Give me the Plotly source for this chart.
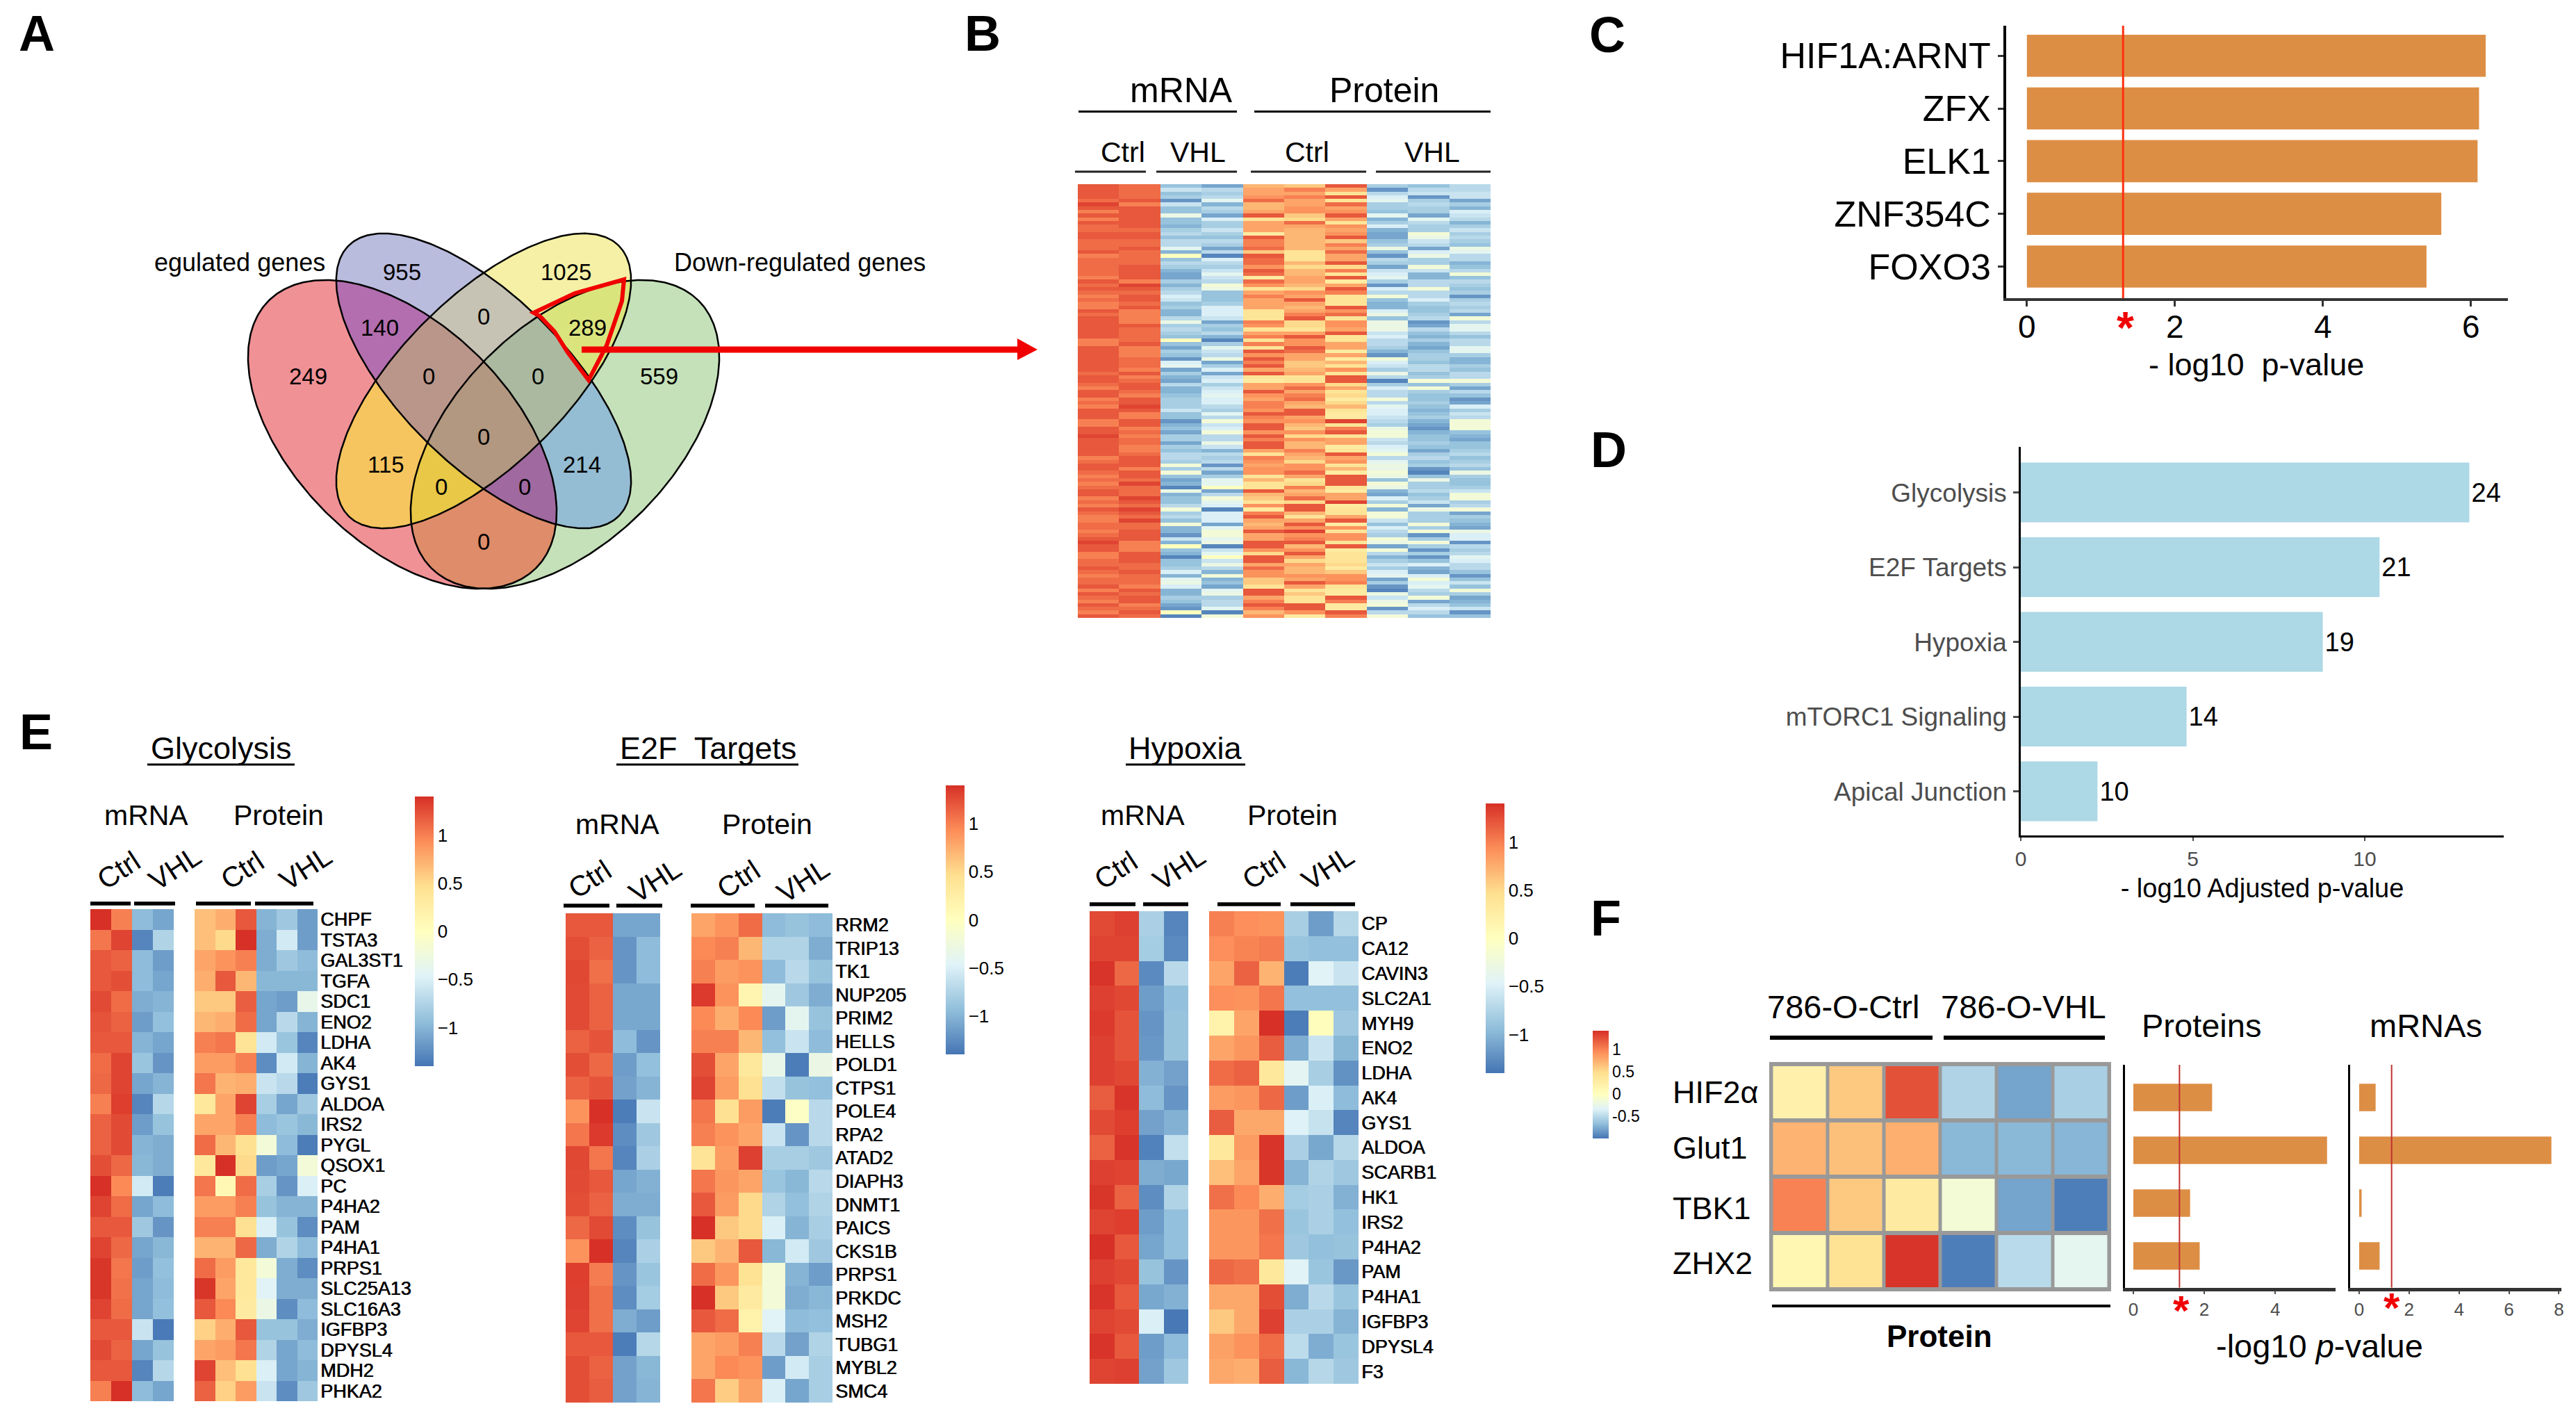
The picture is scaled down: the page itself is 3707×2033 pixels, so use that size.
import numpy as np
import plotly.graph_objects as go

W, H = 3707, 2033
FONT = "Liberation Sans"

# ---------------- DATA ----------------
venn_counts = ["955", "1025", "0", "140", "289", "249", "0", "0", "559", "0", "115", "214", "0", "0", "0"]

tf_names = ["HIF1A:ARNT", "ZFX", "ELK1", "ZNF354C", "FOXO3"]
tf_values = [6.2, 6.11, 6.09, 5.6, 5.4]
significance = 1.3

hallmark_names = ["Glycolysis", "E2F Targets", "Hypoxia", "mTORC1 Signaling", "Apical Junction"]
hallmark_values = [13.04, 10.43, 8.78, 4.82, 2.23]
hallmark_counts = ["24", "21", "19", "14", "10"]

# panel B, tenths of a z-score, read band by band: mRNA Ctrl x2, VHL x2, Protein Ctrl x3, VHL x3
panel_b_rows = [
[12,11,-9,-11,7,6,12,-8,-9,-7],[12,11,-6,-7,8,10,8,-12,-7,-7],[12,11,-9,-8,8,8,4,-7,-6,-6],[12,11,-8,-7,9,10,12,-5,-12,-6],
[11,12,-12,-4,11,8,4,-4,-8,-11],[13,10,-6,-10,7,8,11,-8,-7,-8],[12,12,-9,-7,7,9,8,-8,-8,-10],[10,12,-9,-8,8,9,9,-9,-8,-5],
[12,12,-3,-11,12,6,12,-4,-11,-6],[10,12,-9,-5,4,5,8,-10,-4,-7],[12,12,-9,-8,8,11,4,-8,-7,-10],[11,12,-10,-8,8,8,9,-5,-8,-8],
[11,11,-8,-6,8,7,8,-10,-8,-6],[12,12,-7,-8,3,7,9,-11,-2,-8],[12,12,-9,-9,12,7,12,-11,-3,-7],[11,11,-7,-7,10,7,6,-9,-6,-8],
[11,11,-7,-8,10,7,10,-8,-7,-9],[11,12,-4,-11,11,7,8,-3,-11,-3],[12,11,-10,-7,6,4,11,-9,-5,-4],[10,11,0,-13,12,4,8,-12,-3,-7],
[11,11,-9,-5,11,4,8,-7,-8,-7],[11,11,-7,-7,11,7,12,-8,-8,-10],[11,12,-8,-8,9,5,5,-11,-2,-9],[11,12,-10,-6,12,7,10,-6,-6,-7],
[11,12,-11,-4,11,7,4,-5,-10,-2],[10,12,-11,-6,3,8,12,-4,-10,-9],[12,10,-8,-7,11,8,3,-8,-7,-7],[11,13,-10,-2,9,7,8,-12,-7,-8],
[12,12,-8,-3,4,5,12,-5,-2,-9],
[11,11,-7,-9,8,9,10,-7,-7,-8],[10,12,-5,-9,10,8,4,-2,-7,-12],[11,12,-6,-9,8,12,4,-9,-5,-8],[10,11,-9,-8,8,8,4,-10,-8,-7],
[10,12,-8,-5,8,7,12,-10,-9,-8],[12,10,-10,-5,4,8,9,-5,-9,-7],[11,10,-10,-5,4,10,11,-3,-8,-11],[12,10,-7,-6,4,12,4,-9,-7,-2],
[12,10,-3,-11,10,5,9,-3,-12,-7],[12,12,-8,-8,9,5,9,-3,-11,-4],[12,11,-7,-9,4,4,8,-3,-7,-4],[12,11,-8,-7,8,8,12,-6,-9,-7],
[12,11,-9,-10,10,12,4,-5,-10,-9],[10,11,0,-13,4,9,4,-7,-8,-7],[10,12,-9,-8,10,9,8,-7,-10,-7],[12,10,-11,-4,4,12,8,-8,-11,-4],
[12,10,-8,-6,12,11,3,-10,-9,-4],[12,10,-9,-7,9,8,8,-12,-8,-8],[12,11,-12,-3,12,8,3,-2,-8,-10],[12,11,-5,-11,10,6,7,-5,-9,-10],
[12,11,-4,-8,12,6,4,-6,-7,-8],[12,10,-11,-5,8,7,9,-8,-7,-9],[11,12,-8,-11,12,8,4,-3,-9,-7],[12,10,-10,-6,4,4,12,-7,-8,-7],
[12,11,-11,-5,3,4,12,-13,-2,-2],[11,12,-7,-8,8,9,5,-8,-9,-8],[10,12,-10,-6,8,11,8,-5,-2,-11],[12,11,-10,-5,12,8,4,-7,-8,-7],
[12,10,-9,-4,9,10,5,-7,-9,-9],[10,12,-8,-5,8,11,3,-2,-9,-12],
[11,12,-8,-5,10,8,5,-7,-8,-11],[10,13,-8,-7,10,7,7,-4,-9,-5],[12,12,-6,-8,9,12,4,-5,-10,-8],[12,10,-9,-4,12,12,3,-5,-9,-6],
[12,10,-9,-7,10,8,3,-6,-8,-7],[10,12,-12,-2,9,9,13,-7,-10,-2],[10,12,-10,-6,12,7,4,-8,-11,-2],[12,10,-9,-5,12,6,10,-3,-12,-2],
[12,11,-11,-2,9,9,12,-2,-10,-9],[13,10,-8,-7,12,5,4,-2,-9,-10],[12,11,-8,-7,10,9,8,-6,-9,-11],[12,11,-11,-3,12,7,8,-7,-8,-9],
[12,10,-8,-6,12,7,3,-5,-9,-9],[12,10,-9,-10,8,10,4,-4,-11,-8],[12,11,-7,-7,4,8,12,-2,-8,-7],[10,12,-7,-8,10,7,8,-7,-7,-9],
[11,12,-8,-7,9,5,9,-4,-9,-8],[12,12,-2,-12,8,9,4,-3,-8,-7],[12,10,-8,-7,9,9,7,-3,-12,-9],[11,12,-2,-11,9,11,3,-2,-13,-3],
[10,12,-9,-8,4,8,12,-3,-9,-8],[11,11,-11,-4,7,4,12,-9,-3,-9],[10,13,-10,-4,4,5,12,-2,-8,-9],[11,11,-13,0,4,10,4,-3,-8,-8],
[12,11,-3,-11,12,7,3,-10,-7,-6],[12,11,-10,-7,7,8,8,-11,-9,-2],[10,13,-9,-2,6,11,8,-5,-8,-2],[11,12,-9,-4,4,5,13,-8,-6,-8],
[10,11,-7,-5,9,12,3,-2,-11,-7],[12,13,-2,-13,3,12,4,-10,-3,-2],
[11,12,-8,-5,10,7,4,-2,-8,-11],[10,11,-7,-5,12,4,8,-2,-8,-8],[10,13,-9,-5,8,8,12,-6,-8,-9],[11,11,-2,-11,7,12,3,-9,-2,-10],
[11,11,-10,-4,8,9,9,-5,-8,-11],[10,12,-10,-2,12,13,4,-7,-2,-3],[11,12,-12,-2,8,9,9,-8,-12,-5],[12,12,-6,-4,8,10,9,-2,-8,-5],
[13,10,-10,-3,12,12,4,-3,-2,-12],[12,10,0,-13,12,7,12,-11,-8,-7],[12,10,-9,-6,9,9,3,-2,-12,-8],[10,12,-10,-4,5,12,4,-7,-8,-7],
[10,12,-13,0,12,8,4,-10,-12,-4],[11,12,-9,-6,12,5,4,-8,-9,-5],[11,11,-9,-3,8,8,5,-6,-5,-7],[12,11,-8,-7,11,7,3,-8,-10,-7],
[11,12,-5,-10,9,7,6,-5,-11,-9],[10,11,-10,-2,9,9,9,-4,-5,-12],[11,11,-4,-10,6,8,9,-11,-2,-9],[11,11,-3,-9,6,12,10,-8,-5,-6],
[12,10,-5,-11,4,8,4,-12,-4,-9],[10,12,-10,-4,12,4,3,-13,-7,-2],[12,11,-10,-3,12,6,3,-3,-8,-8],[11,12,-8,-8,8,4,12,-6,-2,-11],
[10,12,-9,-7,10,4,10,-3,-11,-10],[12,10,-11,-7,12,12,3,-2,-7,-9],[11,11,-12,-4,10,12,3,-12,-5,-6],[10,12,0,-13,7,9,12,-7,-7,-12],
[12,11,-13,-2,9,3,10,-2,-9,-9],
]

glyco_genes = ["CHPF","TSTA3","GAL3ST1","TGFA","SDC1","ENO2","LDHA","AK4","GYS1","ALDOA","IRS2","PYGL","QSOX1","PC","P4HA2","PAM","P4HA1","PRPS1","SLC25A13","SLC16A3","IGFBP3","DPYSL4","MDH2","PHKA2"]
glyco_mrna = [[1.4,1.0,-.95,-1.1],[1.05,1.3,-1.3,-.75],[1.2,1.15,-.95,-1.15],[1.2,1.25,-.95,-1.1],[1.27,1.1,-1.05,-1.0],[1.22,1.15,-1.15,-.92],[1.2,1.2,-1.0,-1.1],[1.1,1.3,-.88,-1.2],[1.12,1.3,-1.1,-1.0],[1.0,1.33,-1.3,-.72],[1.15,1.27,-1.15,-.9],[1.15,1.27,-1.0,-1.05],[1.25,1.12,-.98,-1.05],[1.4,.95,-.55,-1.35],[1.3,1.1,-1.1,-.95],[1.2,1.2,-.85,-1.2],[1.3,1.12,-1.1,-.98],[1.37,1.05,-1.15,-.92],[1.37,1.07,-1.1,-.95],[1.3,1.1,-1.1,-.92],[1.2,1.2,-.6,-1.37],[1.27,1.15,-1.1,-.9],[1.2,1.2,-1.3,-.72],[1.0,1.4,-.95,-1.1]]
glyco_protein = [[.65,.75,1.2,-1.0,-.85,-1.15],[.65,.5,1.4,-1.05,-.55,-1.15],[.8,.9,1.0,-1.05,-.85,-.95],[.75,1.2,.7,-.98,-.98,-.98],[.6,.6,1.17,-1.1,-1.15,-.35],[.7,.75,1.1,-1.1,-.7,-1.0],[1.0,1.05,.4,-.55,-.88,-1.3],[.85,.85,1.0,-1.25,-.55,-1.0],[1.05,.72,.75,-.6,-.7,-1.35],[.35,.8,1.3,-.8,-1.1,-.85],[.8,.8,1.0,-.95,-.88,-.98],[1.1,.7,.45,-.2,-.95,-1.35],[.35,1.4,.5,-1.15,-1.1,-.2],[1.05,.1,1.1,-.8,-1.2,-.5],[.85,.85,1.0,-.9,-1.0,-1.0],[1.0,1.0,.45,-.5,-.9,-1.25],[.72,.72,1.12,-1.05,-.75,-.95],[1.1,.85,.35,-.2,-1.05,-1.25],[1.37,.8,.35,-.45,-1.05,-1.05],[1.2,.95,.3,-.3,-1.25,-.95],[.55,.75,1.2,-.9,-.9,-1.05],[.8,.85,1.05,-.75,-1.1,-.95],[1.3,.65,.45,-.5,-1.1,-1.0],[1.15,.55,.85,-.6,-1.25,-.85]]

e2f_genes = ["RRM2","TRIP13","TK1","NUP205","PRIM2","HELLS","POLD1","CTPS1","POLE4","RPA2","ATAD2","DIAPH3","DNMT1","PAICS","CKS1B","PRPS1","PRKDC","MSH2","TUBG1","MYBL2","SMC4"]
e2f_mrna = [[1.2,1.2,-1.1,-1.1],[1.25,1.15,-1.2,-.95],[1.28,1.08,-1.2,-.95],[1.27,1.15,-1.08,-1.08],[1.27,1.15,-1.08,-1.08],[1.15,1.22,-.95,-1.2],[1.25,1.12,-1.15,-.92],[1.15,1.22,-1.12,-1.0],[.9,1.4,-1.35,-.6],[1.05,1.35,-1.25,-.85],[1.28,1.05,-1.3,-.78],[1.27,1.2,-1.1,-1.02],[1.25,1.15,-1.05,-1.05],[1.12,1.27,-1.25,-.9],[.9,1.4,-1.3,-.78],[1.33,1.02,-1.2,-.88],[1.32,1.08,-1.25,-.82],[1.3,1.08,-1.05,-1.15],[1.2,1.2,-1.35,-.72],[1.25,1.15,-1.12,-.98],[1.25,1.18,-1.12,-1.0]]
e2f_protein = [[.8,.9,1.1,-.95,-.9,-.95],[.95,1.0,.7,-.75,-.75,-1.05],[1.0,.85,.9,-.95,-.7,-.9],[1.35,.9,.15,-.4,-.85,-1.05],[.95,.75,.95,-1.15,-.4,-.9],[1.0,1.0,.7,-.92,-.6,-.95],[1.25,.8,.35,-.35,-1.35,-.3],[1.3,.85,.45,-.65,-.9,-.92],[1.05,.45,.85,-1.35,-.05,-.7],[1.0,.9,.8,-.6,-1.2,-.7],[.4,.85,1.32,-.8,-.8,-.85],[1.05,.88,.8,-.88,-.98,-.7],[1.2,.85,.5,-.75,-.92,-.75],[1.4,.6,.5,-.5,-1.0,-.8],[.6,.72,1.2,-.98,-.55,-.85],[1.1,.88,.42,-.2,-1.0,-1.15],[1.4,.6,.3,-.2,-1.05,-.98],[1.2,1.1,.2,-.45,-.95,-.92],[.8,.85,1.0,-.7,-1.12,-.75],[.8,.95,.9,-1.15,-.55,-.8],[1.05,.58,.82,-.5,-1.1,-.8]]

hypoxia_genes = ["CP","CA12","CAVIN3","SLC2A1","MYH9","ENO2","LDHA","AK4","GYS1","ALDOA","SCARB1","HK1","IRS2","P4HA2","PAM","P4HA1","IGFBP3","DPYSL4","F3"]
hypoxia_mrna = [[1.27,1.32,-.78,-1.3],[1.3,1.3,-.82,-1.27],[1.38,1.12,-1.27,-.7],[1.32,1.28,-1.15,-.92],[1.35,1.22,-1.2,-.9],[1.32,1.22,-1.18,-.9],[1.32,1.28,-1.02,-1.12],[1.18,1.38,-.95,-1.2],[1.27,1.33,-1.12,-1.02],[1.15,1.38,-1.32,-.65],[1.32,1.3,-1.05,-1.08],[1.37,1.15,-1.25,-.75],[1.3,1.33,-1.15,-.92],[1.4,1.2,-1.1,-.92],[1.32,1.28,-.9,-1.2],[1.38,1.2,-1.08,-1.02],[1.3,1.27,-.5,-1.38],[1.38,1.2,-1.15,-.95],[1.3,1.32,-1.12,-.85]]
hypoxia_protein = [[1.0,.92,.9,-.8,-1.15,-.72],[.92,.98,1.02,-.88,-.92,-.92],[.8,1.15,.72,-1.35,-.45,-.6],[.92,.9,1.05,-.92,-.92,-.92],[.2,.8,1.4,-1.35,.03,-.85],[.8,.88,1.18,-1.05,-.6,-.98],[1.1,1.15,.35,-.42,-.8,-1.22],[.85,.88,1.12,-1.15,-.5,-.95],[1.18,.78,.78,-.48,-.62,-1.3],[.35,.85,1.38,-.78,-1.08,-.72],[.65,.8,1.37,-1.0,-.75,-.85],[1.08,.95,.75,-.82,-.78,-1.02],[.88,.88,1.08,-.88,-.78,-.92],[.88,.88,1.05,-.85,-.92,-.9],[1.12,1.08,.35,-.45,-.88,-1.18],[.78,.78,1.25,-1.05,-.7,-.88],[.6,.78,1.32,-.78,-.78,-1.0],[.82,.9,1.1,-.68,-1.05,-.88],[.78,.75,1.18,-.98,-.72,-.85]]

f_genes = ["HIF2α", "Glut1", "TBK1", "ZHX2"]
f_samples = ["Ctrl 1", "Ctrl 2", "Ctrl 3", "VHL 1", "VHL 2", "VHL 3"]
f_heat = [[.2,.6,1.25,-.54,-.79,-.57],[.72,.65,.75,-.7,-.7,-.71],[1.0,.6,.3,-.14,-.79,-.96],[.12,.42,1.4,-.96,-.5,-.29]]
f_protein_p = [2.22, 5.46, 1.6, 1.87]
f_mrna_p = [0.66, 7.7, 0.1, 0.82]

mrna_samples = ["Ctrl 1", "Ctrl 2", "VHL 1", "VHL 2"]
protein_samples = ["Ctrl 1", "Ctrl 2", "Ctrl 3", "VHL 1", "VHL 2", "VHL 3"]
cbar_vals = [1, 0.5, 0, -0.5, -1]
cbar_text = ["1", "0.5", "0", "−0.5", "−1"]

# ---------------- STYLE ----------------
RDYLBU = [[0, "#4575B4"], [1/6, "#91BFDB"], [2/6, "#E0F3F8"], [.5, "#FFFFBF"], [4/6, "#FEE090"], [5/6, "#FC8D59"], [1, "#D73027"]]
RDYLBU_F = [[0, "#4575B4"], [.137, "#91BFDB"], [.273, "#E0F3F8"], [.41, "#FFFFBF"], [.607, "#FEE090"], [.803, "#FC8D59"], [1, "#D73027"]]
ORANGE, LIGHTBLUE, GREY = "#DD8E45", "#ADD8E6", "#4D4D4D"
# colour of each Venn intersection, indexed by membership bits: pink 1, blue 2, yellow 4, green 8
VENN_COLORS = ["rgb(255,255,255)", "rgb(240,145,150)", "rgb(186,188,222)", "rgb(178,110,175)",
               "rgb(245,240,165)", "rgb(246,197,95)", "rgb(198,195,180)", "rgb(186,150,138)",
               "rgb(197,225,185)", "rgb(222,140,105)", "rgb(148,188,210)", "rgb(160,105,160)",
               "rgb(218,228,125)", "rgb(232,200,70)", "rgb(170,185,160)", "rgb(178,152,128)"]

fig = go.Figure()
layout = {}
annots, shapes = [], []
axis_n = [0]

def new_axes(x0, x1, y0, y1, xkw=None, ykw=None):
    axis_n[0] += 1
    n = axis_n[0]
    sx = "" if n == 1 else str(n)
    layout["xaxis" + sx] = dict(domain=[x0 / W, x1 / W], anchor="y" + sx, automargin=False, **(xkw or {}))
    layout["yaxis" + sx] = dict(domain=[1 - y1 / H, 1 - y0 / H], anchor="x" + sx, automargin=False, **(ykw or {}))
    return "x" + sx, "y" + sx

def T(text, x, y, size, anchor="center", angle=0, color="black", bold=False, family=FONT):
    annots.append(dict(text=f"<b>{text}</b>" if bold else text, x=x, y=y, xref="x", yref="y", xanchor=anchor, yanchor="middle",
                       showarrow=False, textangle=angle, font=dict(size=size, color=color, family=family)))

def L(x0, y0, x1, y1, w=3, color="black"):
    shapes.append(dict(type="line", x0=x0, y0=y0, x1=x1, y1=y1, xref="x", yref="y", line=dict(color=color, width=w)))

HIDE = dict(visible=False)
# overlay axes counted in pixels, for the diagram and all annotations
xo, yo = new_axes(0, W, 0, H, dict(range=[0, W], **HIDE), dict(range=[H, 0], **HIDE))

# ---- A: Venn
venn_sets = [(579, 625, 272, 157, 45), (696, 548, 275, 120, 45), (696, 548, 275, 120, -45), (813, 625, 272, 157, -45)]

def outline(cx, cy, a, b, deg):
    t = np.linspace(0, 2 * np.pi, 361)
    th = np.radians(deg)
    return (cx + a * np.cos(t) * np.cos(th) - b * np.sin(t) * np.sin(th),
            cy + a * np.cos(t) * np.sin(th) + b * np.sin(t) * np.cos(th))

def inside(px, py, cx, cy, a, b, deg):
    th = np.radians(deg)
    u = (px - cx) * np.cos(th) + (py - cy) * np.sin(th)
    v = -(px - cx) * np.sin(th) + (py - cy) * np.cos(th)
    return (u / a) ** 2 + (v / b) ** 2 <= 1

gx = np.arange(340.0, 1052.0, 1.5)
gy = np.arange(320.0, 860.0, 1.5)
PX, PY = np.meshgrid(gx, gy)
member = np.zeros(PX.shape, dtype=float)
for bit, s in enumerate(venn_sets):
    member += inside(PX, PY, *s) * (2 ** bit)
venn_scale = []
for i, c in enumerate(VENN_COLORS):
    venn_scale += [[i / 16, c], [(i + 1) / 16, c]]
fig.add_trace(go.Heatmap(z=member + 0.5, x=gx, y=gy, zmin=0, zmax=16, colorscale=venn_scale, showscale=False, xaxis=xo, yaxis=yo, hoverinfo="skip"))
for s in venn_sets:
    ex, ey = outline(*s)
    fig.add_trace(go.Scatter(x=ex, y=ey, mode="lines", line=dict(color="black", width=2.5), xaxis=xo, yaxis=yo, hoverinfo="skip"))
venn_xy = [(578,391),(814,391),(696,455),(546,471),(845,471),(443,541),(617,541),(774,541),(948,541),(696,628),(555,668),(837,668),(635,700),(755,700),(696,779)]
for s, (x, y) in zip(venn_counts, venn_xy):
    T(s, x, y, 33)
T("egulated genes", 470, 377, 36, anchor="right")
T("Down-regulated genes", 968, 377, 36, anchor="left")
shapes.append(dict(type="path", xref="x", yref="y", line=dict(color="#F00000", width=6),
                   path="M 768,450 L 827,422 L 898,402 L 895,433 L 873,497 L 847,547 L 817,507 L 798,477 L 777,455 Z"))
L(837, 503, 1466, 503, 9, "#F00000")
shapes.append(dict(type="path", xref="x", yref="y", fillcolor="#F00000", line=dict(color="#F00000", width=0),
                   path="M 1464,487 L 1493,503 L 1464,518 Z"))

# ---- heatmap helper
def heat(x0, x1, y0, y1, z, cols, rows, labels=False, cbar=None, label_size=27, cs=RDYLBU, zr=(-1.4, 1.4), gaps=(0, 0)):
    ykw = dict(type="category", categoryorder="array", categoryarray=rows, range=[len(rows) - .5, -.5],
               showgrid=False, zeroline=False, showline=False, ticks="")
    if labels:
        ykw.update(side="right", showticklabels=True, tickmode="array", tickvals=rows, ticktext=rows, ticklabelstandoff=3,
                   tickfont=dict(size=label_size, color="black", family=FONT, shadow="0.7px 0 0 #000"))
    else:
        ykw.update(showticklabels=False)
    xa, ya = new_axes(x0, x1, y0, y1, dict(type="category", showticklabels=False, ticks="", showgrid=False, zeroline=False, showline=False), ykw)
    kw = dict(showscale=False)
    if cbar:
        kw = dict(showscale=True, colorbar=dict(
            x=cbar["x"] / W, xanchor="left", y=1 - cbar["y"] / H, yanchor="top", len=cbar["len"], lenmode="pixels",
            thickness=cbar["th"], thicknessmode="pixels", xpad=0, ypad=0, outlinewidth=0, ticks="", ticklen=0,
            tickmode="array", tickvals=cbar.get("vals", cbar_vals), ticktext=cbar.get("text", cbar_text),
            tickfont=dict(size=cbar.get("size", 26), color="black", family=FONT)))
    fig.add_trace(go.Heatmap(z=z, x=cols, y=rows, colorscale=cs, zmin=zr[0], zmax=zr[1], xaxis=xa, yaxis=ya,
                             xgap=gaps[0], ygap=gaps[1], hoverinfo="skip", **kw))

# ---- B
b_cols = ["mRNA Ctrl 1", "mRNA Ctrl 2", "mRNA VHL 1", "mRNA VHL 2", "Protein Ctrl 1", "Protein Ctrl 2", "Protein Ctrl 3", "Protein VHL 1", "Protein VHL 2", "Protein VHL 3"]
b_row_ids = [f"gene {i+1}" for i in range(len(panel_b_rows))]
heat(1551, 2145, 265, 889, (np.array(panel_b_rows) / 10).tolist(), b_cols, b_row_ids)
T("mRNA", 1700, 130, 50); T("Protein", 1992, 130, 50)
L(1552, 160.5, 1780, 160.5); L(1805, 160.5, 2145, 160.5)
for txt, x in [("Ctrl", 1616), ("VHL", 1724), ("Ctrl", 1881), ("VHL", 2061)]:
    T(txt, x, 219, 41)
for a, b in [(1547, 1649), (1664, 1780), (1800, 1966), (1980, 2145)]:
    L(a, 247, b, 247, 3, "#222222")

# ---- E
def e_panel(title, tx, ul, genes, mrna, prot, xm, xp, yr, head_y, ctrl_x, bars, bar_y, lab_x, cb):
    heat(xm[0], xm[1], yr[0], yr[1], mrna, mrna_samples, genes)
    heat(xp[0], xp[1], yr[0], yr[1], prot, protein_samples, genes, labels=True, cbar=cb)
    T(title, tx, 1076, 45)
    L(ul[0], 1100, ul[1], 1100, 3)
    T("mRNA", lab_x[0], head_y, 41); T("Protein", lab_x[1], head_y, 41)
    for i, (x, y) in enumerate(ctrl_x):
        T("Ctrl" if i % 2 == 0 else "VHL", x, y, 41, angle=-33)
    for a, b in bars:
        L(a, bar_y, b, bar_y, 5.5)

e_panel("Glycolysis", 318, (212, 424), glyco_genes, glyco_mrna, glyco_protein, (130, 250), (280, 457), (1308, 2016), 1173,
        [(171, 1252), (252, 1249), (349, 1252), (440, 1249)], [(130, 188), (193, 252), (282, 361), (367, 451)], 1300, (210, 401),
        dict(x=597, y=1146, len=388, th=27))
e_panel("E2F  Targets", 1019, (887, 1149), e2f_genes, e2f_mrna, e2f_protein, (814, 950), (995, 1198), (1314, 2018), 1186,
        [(849, 1265), (943, 1267), (1063, 1265), (1156, 1267)], [(811, 877), (887, 953), (994, 1086), (1101, 1192)], 1303, (888, 1104),
        dict(x=1361, y=1130, len=387, th=27))
e_panel("Hypoxia", 1706, (1620, 1792), hypoxia_genes, hypoxia_mrna, hypoxia_protein, (1568, 1710), (1740, 1955), (1311, 1991), 1173,
        [(1606, 1252), (1697, 1249), (1819, 1252), (1911, 1249)], [(1568, 1634), (1645, 1710), (1752, 1843), (1857, 1950)], 1301, (1644, 1860),
        dict(x=2138, y=1156, len=388, th=27))

# ---- C
xc, yc = new_axes(2887, 3609, 37, 429,
    dict(range=[-0.28, 6.5], tickvals=[0, 2, 4, 6], showline=True, linecolor="#333333", linewidth=3.5, ticks="outside", ticklen=8, tickwidth=3, tickcolor="#333333",
         showgrid=False, zeroline=False, tickfont=dict(size=46, color="black", family=FONT), ticklabelstandoff=-10),
    dict(type="category", categoryorder="array", categoryarray=tf_names, range=[4.6, -0.57], showline=True, linecolor="black", linewidth=3.5,
         ticks="outside", ticklen=8, tickwidth=3, tickcolor="#333333", showgrid=False, zeroline=False, tickfont=dict(size=52, color="black", family=FONT), ticklabelstandoff=0))
fig.add_trace(go.Bar(x=tf_values, y=tf_names, orientation="h", width=0.8, marker=dict(color=ORANGE, line=dict(width=0)), xaxis=xc, yaxis=yc, hoverinfo="skip"))
shapes.append(dict(type="line", x0=significance, x1=significance, y0=0, y1=1, xref=xc, yref=yc + " domain", line=dict(color="#FF3010", width=3)))
T("- log10  p-value", 3247, 524, 45)
T("*", 3058, 472, 64, color="#F00000", bold=True)

# ---- D
xd, yd = new_axes(2908, 3603, 643, 1202,
    dict(range=[0, 14.04], tickvals=[0, 5, 10], showline=True, linecolor="black", linewidth=2.5, ticks="outside", ticklen=5, tickwidth=2, tickcolor=GREY,
         showgrid=False, zeroline=False, tickfont=dict(size=30, color=GREY, family=FONT), ticklabelstandoff=0,
         title=dict(text="- log10 Adjusted p-value", font=dict(size=38, color="black", family=FONT), standoff=14)),
    dict(type="category", categoryorder="array", categoryarray=hallmark_names, range=[4.59, -0.61], showline=True, linecolor="black", linewidth=2.5,
         ticks="outside", ticklen=8, tickwidth=3, tickcolor=GREY, showgrid=False, zeroline=False, tickfont=dict(size=37, color=GREY, family=FONT), ticklabelstandoff=2))
fig.add_trace(go.Bar(x=hallmark_values, y=hallmark_names, orientation="h", width=0.8, marker=dict(color=LIGHTBLUE, line=dict(width=0)),
                     text=hallmark_counts, textposition="outside", cliponaxis=False, textfont=dict(size=38, color="black", family=FONT),
                     xaxis=xd, yaxis=yd, hoverinfo="skip"))

# ---- F heat
shapes.append(dict(type="rect", x0=2546, x1=3038, y0=1528, y1=1858, xref="x", yref="y", layer="below", fillcolor="#999999", line=dict(width=0)))
heat(2549.5, 3035.5, 1531, 1855, f_heat, f_samples, f_genes, cs=RDYLBU_F, zr=(-1.0, 1.42), gaps=(5, 6),
     cbar=dict(x=2292, y=1483, len=155, th=23, size=23, vals=[1, .5, 0, -.5], text=["1", "0.5", "0", "-0.5"]))
for g, y in zip(f_genes, [1571, 1651, 1738, 1817]):
    T(g, 2405, y, 45, anchor="left")
T("786-O-Ctrl", 2652, 1448, 47); T("786-O-VHL", 2912, 1448, 47)
L(2547, 1493, 2781, 1493, 6); L(2797, 1493, 3029, 1493, 6)
L(2550, 1879, 3037, 1879, 4)
T("Protein", 2791, 1922, 44, bold=True)

def f_bars(x0, x1, rng, ticks, vals, title, tx, starx, stary):
    xa, ya = new_axes(x0, x1, 1532, 1852.5,
        dict(range=rng, tickvals=ticks, showline=True, linecolor="#333333", linewidth=4.5, ticks="outside", ticklen=5, tickwidth=2, tickcolor=GREY,
             showgrid=False, zeroline=False, tickfont=dict(size=26, color=GREY, family=FONT)),
        dict(type="category", categoryorder="array", categoryarray=f_genes, range=[3.6, -0.62], showline=True, linecolor="black", linewidth=3,
             showticklabels=False, ticks="", showgrid=False, zeroline=False))
    fig.add_trace(go.Bar(x=vals, y=f_genes, orientation="h", width=0.52, marker=dict(color=ORANGE, line=dict(width=0)), xaxis=xa, yaxis=ya, hoverinfo="skip"))
    shapes.append(dict(type="line", x0=significance, x1=significance, y0=0, y1=1, xref=xa, yref=ya + " domain", line=dict(color="#C03030", width=2)))
    T(title, tx, 1475, 47)
    T("*", starx, stary, 60, color="#F00000", bold=True)

f_bars(3058, 3361, [-0.235, 5.7], [0, 2, 4], f_protein_p, "Proteins", 3168, 3139, 1885)
f_bars(3382, 3686, [-0.36, 8.1], [0, 2, 4, 6, 8], f_mrna_p, "mRNAs", 3491, 3442, 1881)
T("-log10 <i>p</i>-value", 3338, 1936, 47)

# ---- panel letters
for s, x, y in [("A", 53, 48), ("B", 1414, 48), ("C", 2313, 50), ("D", 2315, 647), ("E", 52, 1053), ("F", 2311, 1321)]:
    T(s, x, y, 72, bold=True)

fig.update_layout(width=W, height=H, margin=dict(l=0, r=0, t=0, b=0, pad=0), paper_bgcolor="white", plot_bgcolor="rgba(0,0,0,0)",
                  showlegend=False, font=dict(family=FONT), annotations=annots, shapes=shapes, barmode="overlay", **layout)
fig.write_html("out.html", config={"displayModeBar": False}, post_script="document.body.style.margin='0';")
